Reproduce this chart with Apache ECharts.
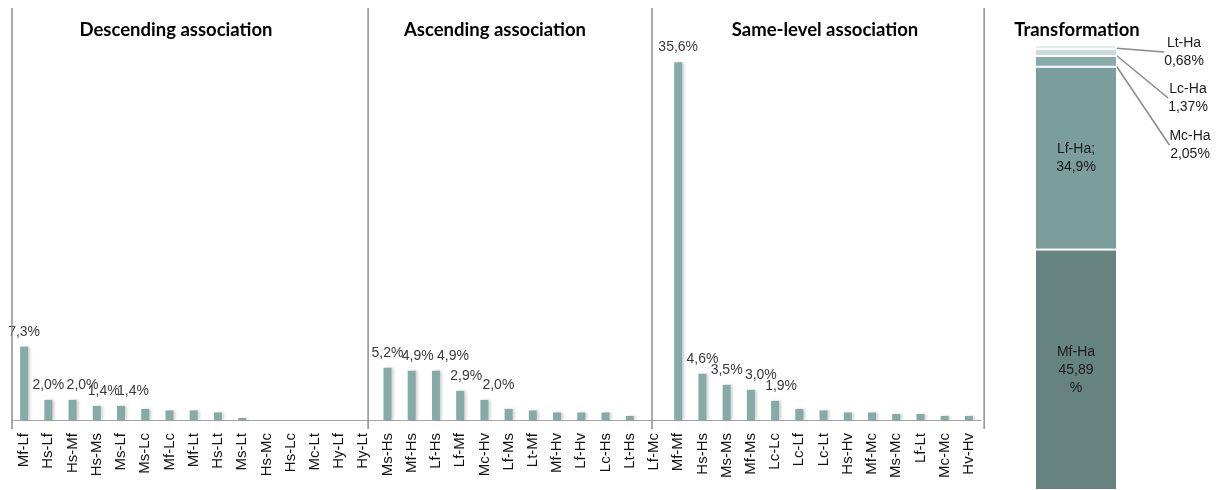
<!DOCTYPE html>
<html><head><meta charset="utf-8">
<script src="https://cdn.jsdelivr.net/npm/echarts@6/dist/echarts.min.js"></script>
<style>html,body{margin:0;padding:0;background:#fff}#c{width:1222px;height:490px}</style>
</head><body><div id="c"></div>
<script>
// ---- data ----
const descCats = ['Mf-Lf','Hs-Lf','Hs-Mf','Hs-Ms','Ms-Lf','Ms-Lc','Mf-Lc','Mf-Lt','Hs-Lt','Ms-Lt','Hs-Mc','Hs-Lc','Mc-Lt','Hy-Lf','Hy-Lt'];
const descVals = [7.3, 2.0, 2.0, 1.4, 1.4, 1.1, 0.95, 0.95, 0.75, 0.2, 0, 0, 0, 0, 0];
const ascCats = ['Ms-Hs','Mf-Hs','Lf-Hs','Lf-Mf','Mc-Hv','Lf-Ms','Lt-Mf','Mf-Hv','Lf-Hv','Lc-Hs','Lt-Hs'];
const ascVals = [5.2, 4.9, 4.9, 2.9, 2.0, 1.1, 0.95, 0.75, 0.75, 0.75, 0.4];
const sameCats = ['Lf-Mc','Mf-Mf','Hs-Hs','Ms-Ms','Mf-Ms','Lc-Lc','Lc-Lf','Lc-Lt','Hs-Hv','Mf-Mc','Ms-Mc','Lf-Lt','Mc-Mc','Hv-Hv'];
const sameVals = [0, 35.6, 4.6, 3.5, 3.0, 1.9, 1.1, 0.95, 0.75, 0.75, 0.6, 0.6, 0.4, 0.4];
const labelled = ['Mf-Lf','Hs-Lf','Hs-Mf','Hs-Ms','Ms-Lf','Ms-Hs','Mf-Hs','Lf-Hs','Lf-Mf','Mc-Hv','Mf-Mf','Hs-Hs','Ms-Ms','Mf-Ms','Lc-Lc'];
const sectionTitles = ['Descending association','Ascending association','Same-level association','Transformation'];

const transCats = ['Mf-Ha','Lf-Ha','Mc-Ha','Lc-Ha','Lt-Ha'];
const transVals = [45.89, 34.9, 2.05, 1.37, 0.68];
const transLabels = ['Mf-Ha\n45,89\n%','Lf-Ha;\n34,9%','Mc-Ha\n2,05%','Lc-Ha\n1,37%','Lt-Ha\n0,68%'];

// ---- layout / style ----
const titleCenters = [176, 495, 825, 1077];
const separatorPos = [0, 14.7, 26.42, 40.13]; // in category units on a hidden value axis
const labelShiftX = {'Hs-Mf': 10, 'Hs-Ms': 7, 'Ms-Lf': 12, 'Mf-Hs': 6, 'Lf-Hs': 17, 'Lf-Mf': 6, 'Mc-Hv': 14, 'Mf-Ms': 10, 'Lc-Lc': 6};
const outerLabelPos = {'Mc-Ha': [1190, 145], 'Lc-Ha': [1188, 98], 'Lt-Ha': [1184, 52]};
const transColors = ['#67837f', '#7c9e9b', '#88aba9', '#c9dbda', '#dde9e8'];
const barColor = '#85aaa8';
const FONT = 'Liberation Sans';

const cats = descCats.concat(ascCats, sameCats);
const vals = descVals.concat(ascVals, sameVals);
const fmt = v => v.toFixed(1).replace('.', ',') + '%';

const chart = echarts.init(document.getElementById('c'), null, {renderer: 'canvas'});

const transSeries = transCats.map((name, i) => {
  const outer = outerLabelPos[name];
  const s = {
    name, type: 'bar', stack: 'T', xAxisIndex: 2, yAxisIndex: 1, barWidth: '100%',
    data: [transVals[i]],
    itemStyle: {color: transColors[i], borderColor: '#fff', borderWidth: 1},
    label: {
      show: true, position: outer ? 'right' : 'inside',
      formatter: () => transLabels[i],
      fontSize: 14, lineHeight: 18, color: '#1a1a1a', align: 'center',
      fontFamily: FONT
    }
  };
  if (outer) {
    s.labelLayout = () => ({x: outer[0], y: outer[1], align: 'center', verticalAlign: 'middle'});
    s.labelLine = {show: true, lineStyle: {color: '#8a8a8a', width: 1.5}};
  }
  return s;
});

const option = {
  animation: false,
  backgroundColor: '#fff',
  textStyle: {fontFamily: FONT},
  title: sectionTitles.map((t, i) => ({
    text: t, left: titleCenters[i], top: 21, padding: 0, textAlign: 'center',
    textStyle: {fontFamily: 'Lato', fontWeight: 'bold', fontSize: 18.5, color: '#000'}
  })),
  grid: [
    {left: 12, right: 241, top: 8, bottom: 70},
    {left: 1035, right: 105, top: 18.5, bottom: -1}
  ],
  xAxis: [
    {type: 'category', gridIndex: 0, data: cats,
     axisLine: {lineStyle: {color: '#a6a6a6', width: 1}},
     axisTick: {length: 7, lineStyle: {color: '#a6a6a6'}},
     axisLabel: {rotate: 90, margin: 13, fontSize: 15, color: '#111', interval: 0, fontFamily: FONT}},
    {type: 'value', gridIndex: 0, min: 0, max: 40, show: false},
    {type: 'category', gridIndex: 1, data: ['Transformation'], show: false}
  ],
  yAxis: [
    {type: 'value', gridIndex: 0, min: 0, max: 41, show: false},
    {type: 'value', gridIndex: 1, min: 0, max: 90, show: false}
  ],
  series: [
    {
      type: 'bar', xAxisIndex: 0, yAxisIndex: 0, barWidth: 8,
      data: vals.map((v, i) => ({
        value: v,
        label: {show: labelled.includes(cats[i]), offset: [labelShiftX[cats[i]] || 0, 0]}
      })),
      itemStyle: {color: barColor, shadowColor: 'rgba(0,0,0,0.18)', shadowBlur: 3, shadowOffsetX: 2},
      label: {position: 'top', distance: 8, formatter: p => fmt(p.value), fontSize: 14, color: '#3a3a3a', fontFamily: FONT}
    }
  ].concat(transSeries)
};
chart.setOption(option);

const yTop = chart.convertToPixel({yAxisIndex: 0}, 41);
const yBase = chart.convertToPixel({yAxisIndex: 0}, 0);
chart.setOption({
  graphic: separatorPos.map(p => {
    const x = chart.convertToPixel({xAxisIndex: 1}, p);
    return {type: 'line', shape: {x1: x, y1: yTop, x2: x, y2: yBase + 9},
            style: {stroke: '#8e8e8e', lineWidth: 1.5}, z: 10};
  })
});
</script>
</body></html>
